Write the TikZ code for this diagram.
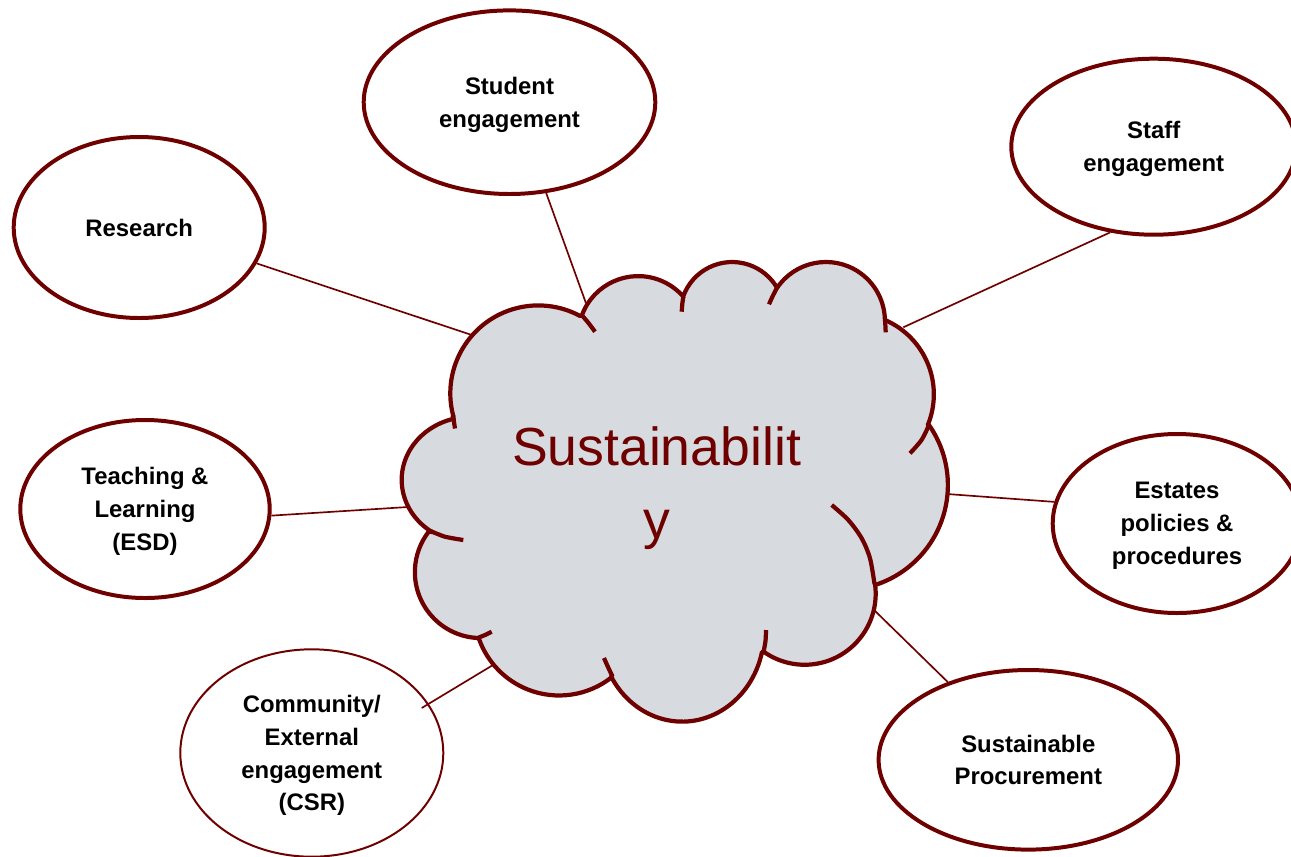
\documentclass[tikz,border=0pt]{standalone}
\usepackage{fontspec}
\setmainfont{Liberation Sans}
\usetikzlibrary{shapes.geometric}
\definecolor{dred}{RGB}{110,0,0}
\definecolor{cloudgray}{RGB}{215,218,223}
\begin{document}
\begin{tikzpicture}[x=0.02cm, y=-0.02cm,
  bubble/.style 2 args={ellipse, draw=dred, line width=2.27pt, fill=white, inner sep=0pt,
    minimum width=#1*0.02cm, minimum height=#2*0.02cm, align=center, text depth=0pt,
    font=\fontsize{13.6pt}{18.7pt}\selectfont\bfseries},
  link/.style={draw=dred, line width=0.95pt},
  cloudline/.style={draw=dred, line width=2.4pt, line join=round},
  bigtext/.style={anchor=base, inner sep=0pt, text=dred, font=\fontsize{30.5pt}{36pt}\selectfont}
]
\useasboundingbox (0,0) rectangle (1291,856);
\clip (0,0) rectangle (1291,856);

% outer bubbles
\node[bubble={251}{181}] (research) at (139.2,227.5) {Research};
\node[bubble={291.6}{183.6}] (student) at (509.5,102.2) {Student\\engagement};
\node[bubble={284.8}{176}] (staff) at (1153.7,146.7) {Staff\\engagement};
\node[bubble={249.4}{178}] (teaching) at (145,509) {Teaching \&\\Learning\\(ESD)};
\node[bubble={248.6}{179}] (estates) at (1177,523.5) {Estates\\policies \&\\procedures};
\node[bubble={299.4}{179.6}] (procure) at (1028.3,759.8) {Sustainable\\Procurement};
\node[bubble={263}{207.4}, line width=1.13pt] (community) at (311.8,753) {Community/\\External\\engagement\\(CSR)};

% points on the cloud
\coordinate (cR) at (471.7,335);
\coordinate (cS) at (586,303.3);
\coordinate (cF) at (903.3,327.3);
\coordinate (cT) at (408,507);
\coordinate (cC) at (493,665);
\coordinate (cE) at (947,494);
\coordinate (cP) at (872,608);
\coordinate (commIn) at (421.7,708);

% connectors
\draw[link] (research.343.5) -- (cR);
\draw[link] (student.292.7) -- (cS);
\draw[link] (staff.243.4) -- (cF);
\draw[link] (teaching.357.3) -- (cT);
\draw[link] (commIn) -- (cC);
\draw[link] (estates.170.6) -- (cE);
\draw[link] (procure.136.8) -- (cP);

% cloud outline, lobe by lobe
\path[cloudline, fill=cloudgray] (453,415) arc[start angle=165.8, end angle=298.3, radius=88]
  -- (582,315) arc[start angle=200.6, end angle=319.1, radius=60]
  -- (683,297) arc[start angle=199.1, end angle=330, radius=52]
  -- (777,288) arc[start angle=214, end angle=359, radius=59]
  -- (885,320) arc[start angle=293.4, end angle=382.2, radius=81]
  -- (929,425) arc[start angle=325.1, end angle=431.7, radius=105]
  -- (875,584) arc[start angle=352.1, end angle=485.3, radius=71]
  -- (762,652) arc[start angle=13.1, end angle=150.3, x radius=82, y radius=90]
  -- (612,677) arc[start angle=51.5, end angle=160.1, radius=85]
  -- (478,638) arc[start angle=92.5, end angle=217.8, radius=66]
  -- (432,532) arc[start angle=124.1, end angle=254.6, x radius=69, y radius=63]
  -- cycle;

% inner ticks of the cloud
\draw[cloudline] plot[smooth] coordinates {(453.3,415) (454,422) (455,428.5)};
\draw[cloudline] plot[smooth] coordinates {(581.7,315) (588.5,323) (595,331.7)};
\draw[cloudline] plot[smooth] coordinates {(683.3,296.7) (682.3,304) (681.7,311.7)};
\draw[cloudline] plot[smooth] coordinates {(776.7,288.3) (772.5,296.5) (769,304.3)};
\draw[cloudline] plot[smooth] coordinates {(885,320) (885.4,326) (885.7,332.3)};
\draw[cloudline] plot[smooth] coordinates {(929,425) (921.5,440) (910,453.3)};
\draw[cloudline] plot[smooth] coordinates {(831.7,505) (848.3,520) (861.7,538.3) (870,558.3) (874.5,584)};
\draw[cloudline] plot[smooth] coordinates {(763.5,652) (765.5,641) (766,630)};
\draw[cloudline] plot[smooth] coordinates {(612.5,676.5) (608,667) (604,658)};
\draw[cloudline] plot[smooth] coordinates {(478.3,637.7) (485,635) (491.7,631.7)};
\draw[cloudline] plot[smooth] coordinates {(430.5,531) (445,536.7) (463.3,540)};

% cloud text
\node[bigtext] (sus1) at (656.5,465) {Sustainabilit};
\node[bigtext] (sus2) at (656.5,538) {y};
\end{tikzpicture}
\end{document}
